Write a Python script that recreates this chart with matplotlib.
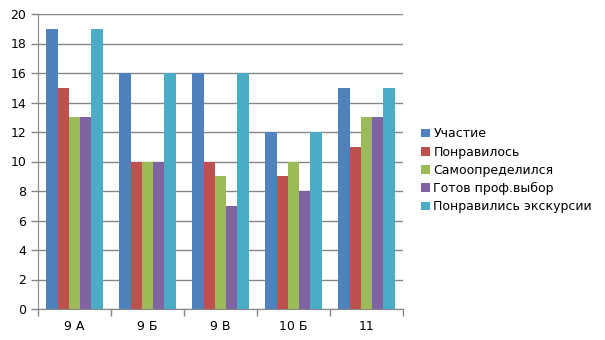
import matplotlib.pyplot as plt
import numpy as np

groups = ['9 А', '9 Б', '9 В', '10 Б', '11']
series = ['Участие', 'Понравилось', 'Самоопределился', 'Готов проф.выбор', 'Понравились экскурсии']
uchastie = [19, 16, 16, 12, 15]
ponravilos = [15, 10, 10, 9, 11]
samoopredelilsya = [13, 10, 9, 10, 13]
gotov = [13, 10, 7, 8, 13]
ekskursii = [19, 16, 16, 12, 15]
colors = ['#4F81BD', '#C0504D', '#9BBB59', '#8064A2', '#4BACC6']

values = [uchastie, ponravilos, samoopredelilsya, gotov, ekskursii]

fig = plt.figure(figsize=(6.05, 3.4), dpi=100)
ax = fig.add_axes([38 / 605, 1 - 309 / 340, 365 / 605, 295 / 340])

x = np.arange(len(groups))
w = 0.155
for i, (name, vals) in enumerate(zip(series, values)):
    ax.bar(x + (i - 2) * w, vals, w, color=colors[i], label=name, zorder=3)

ax.set_xlim(-0.5, len(groups) - 0.5)
ax.set_ylim(0, 20)
ax.set_yticks(range(0, 21, 2))
ax.yaxis.grid(True, color='#868686', linewidth=1, zorder=0)

# category labels centered, tick marks between groups
ax.set_xticks(x)
ax.set_xticklabels(groups)
ax.tick_params(axis='x', length=0, labelsize=9, pad=8)
ax.set_xticks(np.arange(-0.5, len(groups), 1), minor=True)
ax.tick_params(axis='x', which='minor', length=5, color='#868686', width=1)
ax.tick_params(axis='y', length=5, color='#868686', width=1, labelsize=9)

for s in ['top', 'right']:
    ax.spines[s].set_visible(False)
for s in ['left', 'bottom']:
    ax.spines[s].set_color('#868686')

ax.legend(loc='center left', bbox_to_anchor=(1.035, 0.47), frameon=False,
          fontsize=9, handlelength=0.7, handleheight=0.7, handletextpad=0.3,
          labelspacing=0.42, borderaxespad=0)

fig.savefig('out.png', dpi=100)
